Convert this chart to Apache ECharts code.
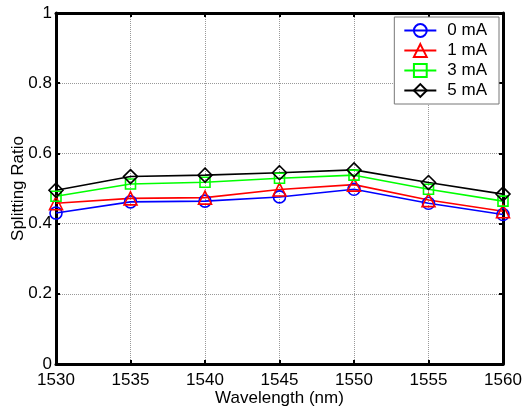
<!DOCTYPE html>
<html>
<head>
<meta charset="utf-8">
<script src="https://cdn.jsdelivr.net/npm/echarts@6/dist/echarts.min.js"></script>
<style>
  html, body { margin: 0; padding: 0; background: #fff; }
  #chart { width: 524px; height: 410px; }
</style>
</head>
<body>
<div id="chart"></div>
<script>
// wavelength points (nm)
const wavelengths = [1530, 1535, 1540, 1545, 1550, 1555, 1560]

// splitting ratio per drive current
const ratio0mA = [0.430, 0.462, 0.464, 0.476, 0.498, 0.458, 0.426]
const ratio1mA = [0.458, 0.472, 0.474, 0.497, 0.511, 0.467, 0.435]
const ratio3mA = [0.478, 0.513, 0.518, 0.529, 0.538, 0.498, 0.464]
const ratio5mA = [0.495, 0.534, 0.538, 0.545, 0.553, 0.517, 0.484]

const seriesNames = ['0 mA', '1 mA', '3 mA', '5 mA']

const FONT = "'Liberation Sans', Arial, sans-serif"

const chart = echarts.init(document.getElementById('chart'))

const pairs = (ys) => wavelengths.map((x, i) => [x, ys[i]])

const makeSeries = (name, ys, color, symbol, size) => ({
  name,
  type: 'line',
  data: pairs(ys),
  symbol,
  symbolSize: size,
  showSymbol: true,
  lineStyle: { color, width: 1.6 },
  itemStyle: { color: 'rgba(0,0,0,0)', borderColor: color, borderWidth: 1.6 },
  emphasis: { disabled: true },
  z: 3
})

const boxAxis = {
  axisLine: { show: true, onZero: false, lineStyle: { color: '#000', width: 3 } },
  axisTick: { show: true, inside: true, length: 4, lineStyle: { color: '#000', width: 2 } },
  axisLabel: { show: false },
  splitLine: { show: false }
}

const option = {
  backgroundColor: '#fff',
  animation: false,
  textStyle: { fontFamily: FONT },
  grid: { left: 56, right: 21, top: 13, bottom: 46, containLabel: false, outerBoundsMode: 'none' },
  legend: {
    data: seriesNames,
    orient: 'vertical',
    right: 25,
    top: 17,
    backgroundColor: '#fff',
    borderColor: '#777',
    borderWidth: 1,
    padding: [5, 12, 5, 9],
    itemWidth: 32,
    itemHeight: 16,
    itemGap: 3,
    textStyle: { fontSize: 17, color: '#000', fontFamily: FONT, lineHeight: 17, padding: [0, 0, 0, 6] }
  },
  xAxis: [
    {
      type: 'value',
      min: 1530,
      max: 1560,
      interval: 5,
      name: 'Wavelength (nm)',
      nameLocation: 'middle',
      nameGap: 26,
      nameMoveOverlap: false,
      nameTextStyle: { fontSize: 17, color: '#000', fontFamily: FONT },
      axisLine: { show: true, onZero: false, lineStyle: { color: '#000', width: 3 } },
      axisTick: { show: true, inside: true, length: 4, lineStyle: { color: '#000', width: 2 } },
      axisLabel: { color: '#000', fontSize: 17, margin: 8, fontFamily: FONT, formatter: (v) => String(v) },
      splitLine: { show: true, lineStyle: { color: '#999', type: [1, 1], width: 1 } }
    },
    Object.assign({ type: 'value', position: 'top', min: 1530, max: 1560, interval: 5 }, boxAxis)
  ],
  yAxis: [
    {
      type: 'value',
      min: 0,
      max: 1,
      interval: 0.2,
      name: 'Splitting Ratio',
      nameLocation: 'middle',
      nameGap: 29,
      nameMoveOverlap: false,
      nameTextStyle: { fontSize: 17, color: '#000', fontFamily: FONT },
      axisLine: { show: true, onZero: false, lineStyle: { color: '#000', width: 3 } },
      axisTick: { show: true, inside: true, length: 4, lineStyle: { color: '#000', width: 2 } },
      axisLabel: { color: '#000', fontSize: 17, margin: 4, fontFamily: FONT },
      splitLine: { show: true, lineStyle: { color: '#999', type: [1, 1], width: 1 } }
    },
    Object.assign({ type: 'value', position: 'right', min: 0, max: 1, interval: 0.2 }, boxAxis)
  ],
  series: [
    makeSeries(seriesNames[0], ratio0mA, '#0000ff', 'circle', 12),
    makeSeries(seriesNames[1], ratio1mA, '#ff0000', 'triangle', 13),
    makeSeries(seriesNames[2], ratio3mA, '#00ff00', 'rect', 10),
    makeSeries(seriesNames[3], ratio5mA, '#000000', 'diamond', 14)
  ]
}

chart.setOption(option)
</script>
</body>
</html>
